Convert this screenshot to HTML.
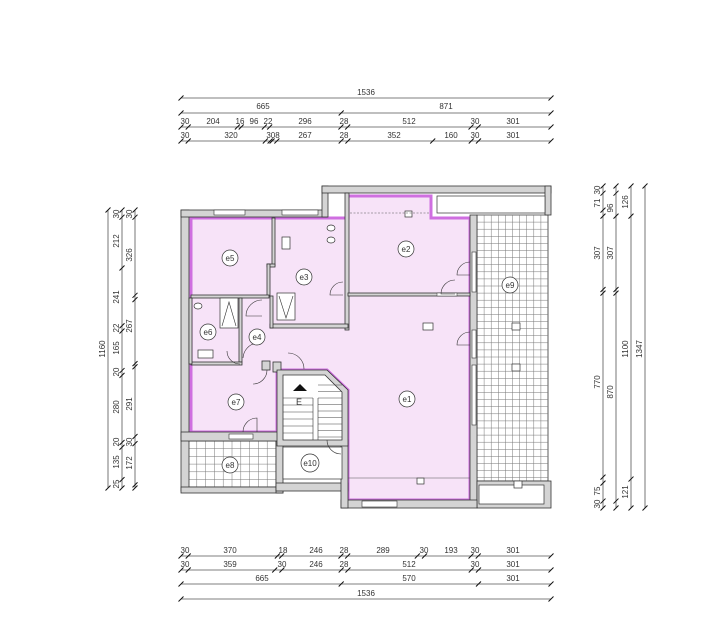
<!DOCTYPE html>
<html><head><meta charset="utf-8"><style>
html,body{margin:0;padding:0;background:#fff;}
svg{display:block}
text{font-family:"Liberation Sans",sans-serif;font-size:8px;fill:#333;}
.d{stroke:#555;stroke-width:0.8;fill:none}
.w{fill:#d4d4d4;stroke:#333;stroke-width:0.8}
.c{fill:#fff;stroke:#333;stroke-width:0.7}
.t{stroke:#333;stroke-width:0.6;fill:none}
</style></head><body>
<svg id="s" width="705" height="623" viewBox="0 0 705 623" xmlns="http://www.w3.org/2000/svg">
<rect width="705" height="623" fill="#fff"/>
<rect x="477" y="215" width="71" height="266" fill="#fff" stroke="#333" stroke-width="0.8"/>
<g id="g9"></g>
<rect x="188" y="441" width="88" height="46" fill="#fff" stroke="#333" stroke-width="0.8"/>
<g id="g8"></g>
<polygon points="191,218 348,218 348,196 431,196 431,218 470,218 470,500 348,500 348,390 327,370 277,370 277,432 191,432" fill="#f7e3f8" stroke="#cf6fe0" stroke-width="3"/>
<rect class="w" x="181" y="210" width="8" height="281"/>
<rect class="w" x="181" y="210" width="146" height="7"/>
<rect fill="#fff" stroke="#333" stroke-width="0.6" x="214" y="210" width="31" height="5"/>
<rect fill="#fff" stroke="#333" stroke-width="0.6" x="282" y="210" width="36" height="5"/>
<rect class="w" x="322" y="186" width="6" height="31"/>
<rect class="w" x="322" y="186" width="229" height="7"/>
<rect class="w" x="545" y="186" width="6" height="29"/>
<rect class="c" x="437" y="196" width="108" height="17"/>
<rect class="w" x="470" y="215" width="7" height="290"/>
<rect fill="#fff" stroke="#333" stroke-width="0.6" x="472" y="252" width="4" height="40"/>
<rect fill="#fff" stroke="#333" stroke-width="0.6" x="472" y="330" width="4" height="28"/>
<rect fill="#fff" stroke="#333" stroke-width="0.6" x="472" y="365" width="4" height="60"/>
<rect class="w" x="477" y="481" width="74" height="27"/>
<rect class="c" x="479" y="485" width="65" height="19"/>
<rect class="w" x="341" y="500" width="136" height="8"/>
<rect fill="#fff" stroke="#333" stroke-width="0.6" x="362" y="501" width="35" height="6"/>
<rect class="w" x="181" y="487" width="102" height="6"/>
<rect class="w" x="276" y="441" width="7" height="52"/>
<rect class="w" x="276" y="483" width="72" height="8"/>
<rect class="w" x="341" y="440" width="7" height="68"/>
<rect class="w" x="181" y="432" width="99" height="9"/>
<rect fill="#fff" stroke="#333" stroke-width="0.6" x="229" y="434" width="24" height="5"/>
<rect class="w" x="345" y="193" width="4" height="137"/>
<rect class="w" x="348" y="293" width="122" height="3"/>
<rect fill="#fff" stroke="#333" stroke-width="0.5" x="437" y="293" width="20" height="3"/>
<rect class="w" x="272" y="218" width="3" height="48"/>
<rect class="w" x="267" y="264" width="8" height="3"/>
<rect class="w" x="267" y="264" width="3" height="32"/>
<rect class="w" x="270" y="324" width="78" height="4"/>
<rect class="w" x="270" y="296" width="3" height="32"/>
<rect class="w" x="191" y="295" width="78" height="3"/>
<rect class="w" x="239" y="298" width="3" height="64"/>
<rect class="w" x="191" y="362" width="51" height="3"/>
<rect class="w" x="189" y="298" width="3" height="66"/>
<rect class="w" x="262" y="361" width="8" height="9"/>
<rect class="w" x="273" y="362" width="8" height="10"/>
<polygon points="277,370 327,370 348,390 348,446 277,446" class="w"/>
<polygon points="283,375 325,375 342,392 342,440 283,440" fill="#fff" stroke="#333" stroke-width="0.8"/>
<g id="st"></g>
<line class="t" x1="313" y1="398" x2="313" y2="440"/><line class="t" x1="318" y1="398" x2="318" y2="440"/>
<polygon points="293,391 300,384 307,391" fill="#111"/>
<text x="296" y="405" style="font-size:9px">E</text>
<rect class="c" x="283" y="447" width="59" height="32"/>
<rect class="c" x="277" y="293" width="18" height="27"/>
<polyline class="t" points="279,296 286,318 293,296"/>
<rect class="c" x="220" y="298" width="18" height="30"/>
<polyline class="t" points="222,326 229,302 236,326"/>
<rect class="c" x="198" y="350" width="15" height="8"/>
<rect class="c" x="282" y="237" width="8" height="12"/>
<ellipse class="c" cx="331" cy="228" rx="4" ry="3"/><ellipse class="c" cx="331" cy="240" rx="4" ry="3"/>
<ellipse class="c" cx="198" cy="306" rx="4" ry="3"/>
<path class="t" d="M262,300 A16,16 0 0 0 246,316 L262,316"/>
<path class="t" d="M343,282 A13,13 0 0 0 330,295 L343,295"/>
<path class="t" d="M470,262 A13,13 0 0 0 457,275 L470,275"/>
<path class="t" d="M455,280 A14,14 0 0 0 441,294 L455,294"/>
<path class="t" d="M470,332 A13,13 0 0 0 457,345 L470,345"/>
<path class="t" d="M257,343 A16,16 0 0 0 243,358"/>
<path class="t" d="M227,351 A13,13 0 0 0 240,364"/>
<path class="t" d="M267,370 A14,14 0 0 1 253,384"/>
<path class="t" d="M288,353 A16,16 0 0 1 304,369"/>
<path class="t" d="M243,432 A14,14 0 0 1 257,418 L257,432"/>
<path class="t" d="M327,440 A14,14 0 0 0 341,454"/>
<rect class="c" x="405" y="211" width="7" height="6"/>
<rect class="c" x="423" y="323" width="10" height="7"/>
<rect class="c" x="512" y="323" width="8" height="7"/>
<rect class="c" x="512" y="364" width="8" height="7"/>
<rect class="c" x="417" y="478" width="7" height="6"/>
<rect class="c" x="514" y="481" width="8" height="7"/>
<line x1="348" y1="478" x2="470" y2="478" stroke="#555" stroke-width="0.6"/>
<line x1="350" y1="213" x2="430" y2="213" stroke="#555" stroke-width="0.6" stroke-dasharray="2,1.5"/>
<g>
<circle class="c" cx="230" cy="258" r="8"/><text x="230" y="261" text-anchor="middle">e5</text>
<circle class="c" cx="304" cy="277" r="8"/><text x="304" y="280" text-anchor="middle">e3</text>
<circle class="c" cx="406" cy="249" r="8"/><text x="406" y="252" text-anchor="middle">e2</text>
<circle class="c" cx="510" cy="285" r="8"/><text x="510" y="288" text-anchor="middle">e9</text>
<circle class="c" cx="208" cy="332" r="8"/><text x="208" y="335" text-anchor="middle">e6</text>
<circle class="c" cx="257" cy="337" r="8"/><text x="257" y="340" text-anchor="middle">e4</text>
<circle class="c" cx="236" cy="402" r="8"/><text x="236" y="405" text-anchor="middle">e7</text>
<circle class="c" cx="407" cy="399" r="8"/><text x="407" y="402" text-anchor="middle">e1</text>
<circle class="c" cx="230" cy="465" r="8"/><text x="230" y="468" text-anchor="middle">e8</text>
<circle class="c" cx="310" cy="463" r="9"/><text x="310" y="466" text-anchor="middle">e10</text>
</g>
<g id="dims"></g>
<g text-anchor="middle">
<text x="366" y="95">1536</text>
<text x="263" y="109">665</text><text x="446" y="109">871</text>
<text x="185" y="124">30</text><text x="213" y="124">204</text><text x="240" y="124">16</text><text x="254" y="124">96</text><text x="268" y="124">22</text><text x="305" y="124">296</text><text x="344" y="124">28</text><text x="409" y="124">512</text><text x="475" y="124">30</text><text x="513" y="124">301</text>
<text x="185" y="138">30</text><text x="231" y="138">320</text><text x="273" y="138">308</text><text x="305" y="138">267</text><text x="344" y="138">28</text><text x="394" y="138">352</text><text x="451" y="138">160</text><text x="475" y="138">30</text><text x="513" y="138">301</text>
<text x="185" y="553">30</text><text x="230" y="553">370</text><text x="283" y="553">18</text><text x="316" y="553">246</text><text x="344" y="553">28</text><text x="383" y="553">289</text><text x="424" y="553">30</text><text x="451" y="553">193</text><text x="475" y="553">30</text><text x="513" y="553">301</text>
<text x="185" y="567">30</text><text x="230" y="567">359</text><text x="282" y="567">30</text><text x="316" y="567">246</text><text x="344" y="567">28</text><text x="409" y="567">512</text><text x="475" y="567">30</text><text x="513" y="567">301</text>
<text x="262" y="581">665</text><text x="409" y="581">570</text><text x="513" y="581">301</text>
<text x="366" y="596">1536</text>
<text transform="translate(105,349) rotate(-90)">1160</text>
<text transform="translate(119,241) rotate(-90)">212</text>
<text transform="translate(119,297) rotate(-90)">241</text>
<text transform="translate(119,348) rotate(-90)">165</text>
<text transform="translate(119,407) rotate(-90)">280</text>
<text transform="translate(119,462) rotate(-90)">135</text>
<text transform="translate(119,214) rotate(-90)">30</text>
<text transform="translate(119,328) rotate(-90)">22</text>
<text transform="translate(119,372) rotate(-90)">20</text>
<text transform="translate(119,442) rotate(-90)">20</text>
<text transform="translate(119,484) rotate(-90)">25</text>
<text transform="translate(132,255) rotate(-90)">326</text>
<text transform="translate(132,326) rotate(-90)">267</text>
<text transform="translate(132,404) rotate(-90)">291</text>
<text transform="translate(132,463) rotate(-90)">172</text>
<text transform="translate(132,214) rotate(-90)">30</text>
<text transform="translate(132,442) rotate(-90)">30</text>
<text transform="translate(600,253) rotate(-90)">307</text>
<text transform="translate(600,382) rotate(-90)">770</text>
<text transform="translate(600,491) rotate(-90)">75</text>
<text transform="translate(600,203) rotate(-90)">71</text>
<text transform="translate(600,190) rotate(-90)">30</text>
<text transform="translate(600,504) rotate(-90)">30</text>
<text transform="translate(613,253) rotate(-90)">307</text>
<text transform="translate(613,392) rotate(-90)">870</text>
<text transform="translate(613,208) rotate(-90)">96</text>
<text transform="translate(628,202) rotate(-90)">126</text>
<text transform="translate(628,349) rotate(-90)">1100</text>
<text transform="translate(628,492) rotate(-90)">121</text>
<text transform="translate(642,349) rotate(-90)">1347</text>
</g>
</svg>
<script>
var N="http://www.w3.org/2000/svg",s=document.getElementById('s');
function el(t,a,p){var e=document.createElementNS(N,t);for(var k in a)e.setAttribute(k,a[k]);(p||s).appendChild(e);return e;}
var g9=document.getElementById('g9');
for(var x=477;x<548;x+=7.1)el('line',{x1:x,y1:215,x2:x,y2:481,stroke:'#777','stroke-width':0.5},g9);
for(var y=215;y<481;y+=7.1)el('line',{x1:477,y1:y,x2:548,y2:y,stroke:'#777','stroke-width':0.5},g9);
var g8=document.getElementById('g8');
for(var x=188;x<276;x+=8.8)el('line',{x1:x,y1:441,x2:x,y2:487,stroke:'#777','stroke-width':0.5},g8);
for(var y=441;y<487;y+=7.7)el('line',{x1:188,y1:y,x2:276,y2:y,stroke:'#777','stroke-width':0.5},g8);
var st=document.getElementById('st');
for(var y=398;y<440;y+=7)el('line',{x1:283,y1:y,x2:313,y2:y,stroke:'#444','stroke-width':0.5},st);
for(var y=385;y<440;y+=6.5)el('line',{x1:318,y1:y,x2:342,y2:y,stroke:'#444','stroke-width':0.5},st);
var d=document.getElementById('dims');
function hx(u){return 181+u*370/1536;}
function H(y,cum){el('line',{x1:181,y1:y,x2:551,y2:y,class:'d'},d);[0].concat(cum).forEach(function(u){var x=hx(u);el('line',{x1:x-2.5,y1:y+2.5,x2:x+2.5,y2:y-2.5,stroke:'#111','stroke-width':1},d);});}
H(98,[1536]);H(113,[665,1536]);H(127,[30,234,250,346,368,664,692,1204,1234,1536]);H(141,[30,350,370,378,398,665,693,1045,1205,1235,1536]);
H(556,[30,400,418,664,692,981,1011,1204,1234,1536]);H(570,[30,389,419,665,693,1205,1235,1536]);H(584,[665,1235,1536]);H(599,[1536]);
function V(x,y0,y1,tot,cum){el('line',{x1:x,y1:y0,x2:x,y2:y1,class:'d'},d);[0].concat(cum).forEach(function(u){var y=y0+u*(y1-y0)/tot;el('line',{x1:x-2.5,y1:y+2.5,x2:x+2.5,y2:y-2.5,stroke:'#111','stroke-width':1},d);});}
V(108,210,488,1160,[1160]);V(122,210,488,1160,[30,242,483,505,670,690,970,990,1125,1160]);V(135,210,488,1160,[30,356,374,641,654,945,975,1147,1160]);
V(603,186,508,1347,[30,101,126,433,448,1218,1243,1318,1347]);V(616,186,508,1347,[30,126,433,448,1318,1347]);V(631,186,508,1347,[126,1226,1347]);V(645,186,508,1347,[1347]);
</script>
</body></html>
